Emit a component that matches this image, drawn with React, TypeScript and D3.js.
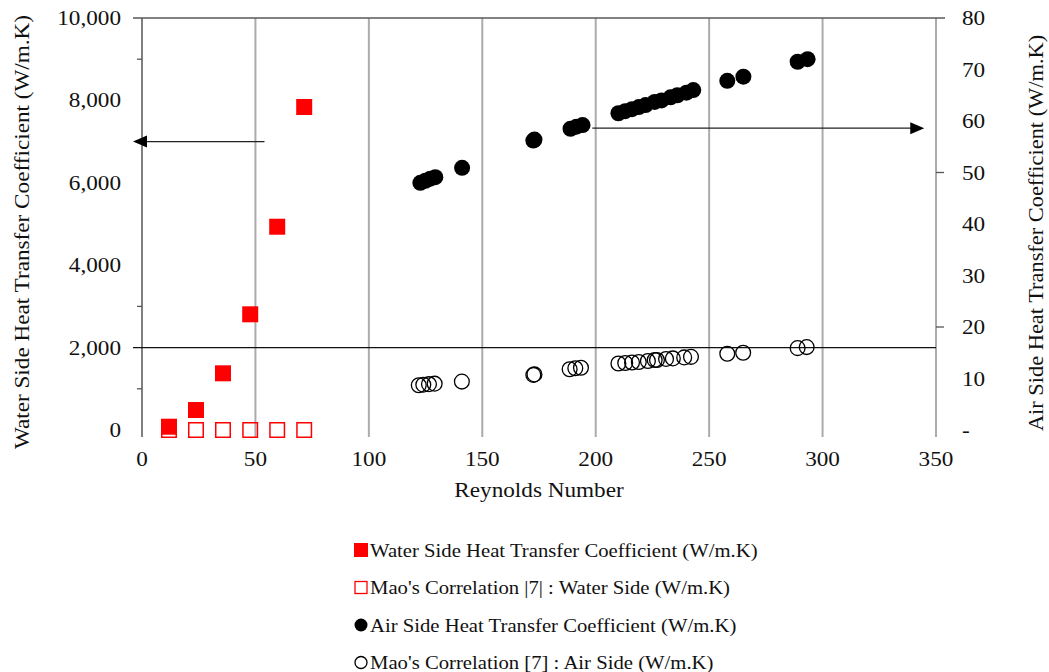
import React from "react";
import * as d3 from "d3";

// ---- data ----
const waterRe = [11.9, 23.8, 35.7, 47.7, 59.6, 71.5];
const waterH = [80, 485, 1376, 2808, 4934, 7840];
const maoWaterH = [0, 0, 0, 0, 0, 0];

const airRe = [122.7, 124.9, 127.1, 129.3, 141.1, 172.5, 173.0, 188.9, 191.5, 194.2,
  210, 213, 216, 219, 222, 226, 229, 233, 236, 240, 243, 258, 265.1, 289, 293.4];
const airH = [48.0, 48.4, 48.8, 49.1, 50.9, 56.2, 56.4, 58.5, 58.9, 59.2,
  61.5, 61.9, 62.3, 62.7, 63.1, 63.7, 64.0, 64.6, 65.0, 65.5, 66.0, 67.8, 68.6, 71.5, 72.0];
const maoAirRe = [122, 124, 126.5, 129, 141, 172.5, 173.0, 188.5, 191, 193.5,
  210, 213, 216, 219, 223, 226, 227, 231, 234, 239, 242, 258, 265, 289, 293];
const maoAirH = [8.7, 8.8, 8.9, 9.0, 9.4, 10.7, 10.8, 11.8, 12.0, 12.1,
  12.9, 13.0, 13.1, 13.2, 13.4, 13.6, 13.6, 13.8, 13.9, 14.1, 14.2, 14.8, 15.0, 15.9, 16.1];

const xTicks = [0, 50, 100, 150, 200, 250, 300, 350];
const leftTicks = [0, 2000, 4000, 6000, 8000, 10000];
const leftMinorTicks = [9000, 7000, 3000, 1000];
const rightTicks = [0, 10, 20, 30, 40, 50, 60, 70, 80];
const rightMinorTicks = [50, 20];

const legendItems = [
  "Water Side Heat Transfer Coefficient (W/m.K)",
  "Mao's Correlation |7| : Water Side (W/m.K)",
  "Air Side Heat Transfer Coefficient (W/m.K)",
  "Mao's Correlation [7] : Air Side (W/m.K)",
];

type TProps = { x: number; y: number; anchor?: string; sx?: number; rot?: number; size?: number; children: React.ReactNode };
function T({ x, y, anchor = "start", sx = 1.16, rot = 0, size = 20, children }: TProps) {
  return (
    <g transform={`translate(${x},${y}) rotate(${rot}) scale(${sx},1)`}>
      <text x={0} y={0} dy="0.35em" textAnchor={anchor} fontSize={size} fill="#111">{children}</text>
    </g>
  );
}

export default function App() {
  const W = 1049, H = 672;
  const x = d3.scaleLinear().domain([0, 350]).range([142, 936]);
  const yL = d3.scaleLinear().domain([0, 10000]).range([430, 18]);
  const yR = d3.scaleLinear().domain([0, 80]).range([430, 18]);
  const plotBottom = 437;
  const fmtL = d3.format(",");
  const font = "'Liberation Serif', 'Times New Roman', serif";
  const sq = 16;
  const r = 8;

  const la = { y: yL(7000), x1: x(54), x2: x(0) };
  const ra = { y: yR(58.6), x1: x(198.5), x2: x(343.5) };

  return (
    <svg width={W} height={H} style={{ position: "absolute", left: 0, top: 0, background: "#fff" }} fontFamily={font}>
      {/* gridlines */}
      {xTicks.slice(1).map((t) => (
        <line key={"g" + t} x1={x(t)} x2={x(t)} y1={yL(10000)} y2={plotBottom} stroke="#ababab" strokeWidth={2} />
      ))}
      {/* left axis */}
      <line x1={x(0)} x2={x(0)} y1={yL(10000)} y2={plotBottom} stroke="#7f7f7f" strokeWidth={2} />
      {leftMinorTicks.map((t) => (
        <line key={"lm" + t} x1={x(0) - 5} x2={x(0)} y1={yL(t)} y2={yL(t)} stroke="#555" strokeWidth={1.3} />
      ))}
      {rightMinorTicks.map((t) => (
        <line key={"rm" + t} x1={x(350)} x2={x(350) + 8} y1={yR(t)} y2={yR(t)} stroke="#555" strokeWidth={1.3} />
      ))}
      {/* top border */}
      <line x1={x(0) - 9} x2={x(350) + 9} y1={yL(10000)} y2={yL(10000)} stroke="#595959" strokeWidth={1.6} />
      {/* 2000 line */}
      <line x1={x(0) - 9} x2={x(350)} y1={yL(2000)} y2={yL(2000)} stroke="#111" strokeWidth={1.3} />

      {/* arrows */}
      <line x1={la.x1} x2={la.x2 + 4} y1={la.y} y2={la.y} stroke="#222" strokeWidth={1.3} />
      <path d={`M${la.x2 - 9},${la.y} L${la.x2 + 5},${la.y - 6} L${la.x2 + 5},${la.y + 6} Z`} fill="#000" />
      <line x1={ra.x1} x2={ra.x2 - 4} y1={ra.y} y2={ra.y} stroke="#222" strokeWidth={1.3} />
      <path d={`M${ra.x2 + 3},${ra.y} L${ra.x2 - 11},${ra.y - 6} L${ra.x2 - 11},${ra.y + 6} Z`} fill="#000" />

      {/* series */}
      {waterRe.map((re, i) => (
        <rect key={"mw" + i} x={x(re) - sq / 2 + 0.75} y={yL(maoWaterH[i]) - sq / 2 + 0.75} width={sq - 1.5} height={sq - 1.5}
          fill="none" stroke="#ff0000" strokeWidth={1.5} />
      ))}
      {waterRe.map((re, i) => (
        <rect key={"w" + i} x={x(re) - sq / 2} y={yL(waterH[i]) - sq / 2} width={sq} height={sq} fill="#ff0000" />
      ))}
      {maoAirRe.map((re, i) => (
        <circle key={"ma" + i} cx={x(re)} cy={yR(maoAirH[i])} r={r - 0.6} fill="none" stroke="#000" strokeWidth={1.3} />
      ))}
      {airRe.map((re, i) => (
        <circle key={"a" + i} cx={x(re)} cy={yR(airH[i])} r={r} fill="#000" />
      ))}

      {/* left tick labels */}
      {leftTicks.map((t) => (
        <T key={"lt" + t} x={121} y={yL(t)} anchor="end">{fmtL(t)}</T>
      ))}
      {/* right tick labels */}
      {rightTicks.map((t) => (
        <T key={"rt" + t} x={962} y={yR(t)}>{t === 0 ? "-" : t}</T>
      ))}
      {/* x tick labels */}
      {xTicks.map((t) => (
        <T key={"xt" + t} x={x(t)} y={459} anchor="middle">{t}</T>
      ))}
      <T x={(x(0) + x(350)) / 2} y={490} anchor="middle">Reynolds Number</T>
      <T x={22} y={232} rot={-90} anchor="middle">Water Side Heat Transfer Coefficient (W/m.K)</T>
      <T x={1036} y={233} rot={-90} anchor="middle" sx={1.12}>Air Side Heat Transfer Coefficient (W/m.K)</T>

      {/* legend */}
      {legendItems.map((label, i) => {
        const ly = 550 + i * 37.5;
        return (
          <g key={"lg" + i}>
            {i === 0 && <rect x={354} y={ly - 7} width={14} height={14} fill="#ff0000" />}
            {i === 1 && <rect x={355} y={ly - 6} width={12} height={12} fill="none" stroke="#ff0000" strokeWidth={1.3} />}
            {i === 2 && <circle cx={361} cy={ly} r={6.5} fill="#000" />}
            {i === 3 && <circle cx={361} cy={ly} r={6} fill="none" stroke="#000" strokeWidth={1.3} />}
            <T x={370} y={ly} size={19} sx={1.09}>{label}</T>
          </g>
        );
      })}
    </svg>
  );
}
